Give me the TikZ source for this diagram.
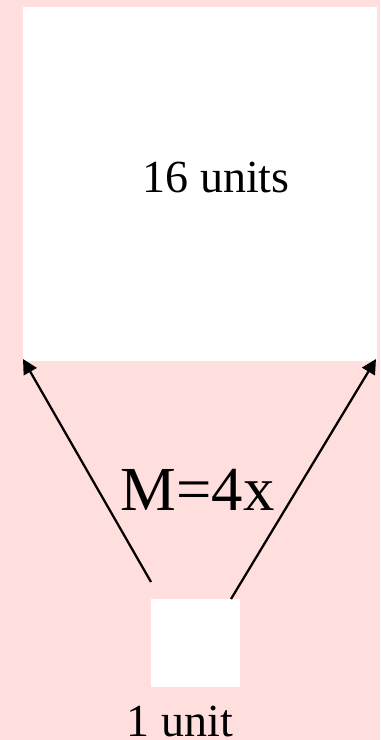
\documentclass[tikz,border=0pt]{standalone}
\usepackage{fontspec}
\setmainfont{Liberation Serif}
\usetikzlibrary{arrows.meta}
\definecolor{bgpink}{RGB}{255,222,222}
\begin{document}
\begin{tikzpicture}[x=0.75pt,y=-0.75pt,
  box/.style={fill=white,draw=none,inner sep=0pt,outer sep=0pt},
  conn/.style={line width=1.7pt,-{Triangle[length=11pt,width=11pt]}},
  lbl/.style={anchor=base,inner sep=0pt,text=black}]
\fill[bgpink] (0,0) rectangle (380,740);
\useasboundingbox (0,0) rectangle (380,740);
\node[box,minimum width=265.5pt,minimum height=265.5pt] (big) at (200,184) {};
\node[box,minimum width=66.75pt,minimum height=66pt] (small) at (195.5,643) {};
\node[lbl,font=\fontsize{34.5}{40}\selectfont] (t16) at (216,192) {16 units};
\node[lbl,font=\fontsize{47}{54}\selectfont] (tm) at (197.5,510) {M=4x};
\node[lbl,font=\fontsize{34.5}{40}\selectfont] (t1) at (180,736) {1 unit};
\coordinate (ls) at (151,582);
\coordinate (rs) at (231,599);
\coordinate (le) at (23,359);
\coordinate (re) at (376,359);
\draw[conn] (ls) -- (le);
\draw[conn] (rs) -- (re);
\end{tikzpicture}
\end{document}
